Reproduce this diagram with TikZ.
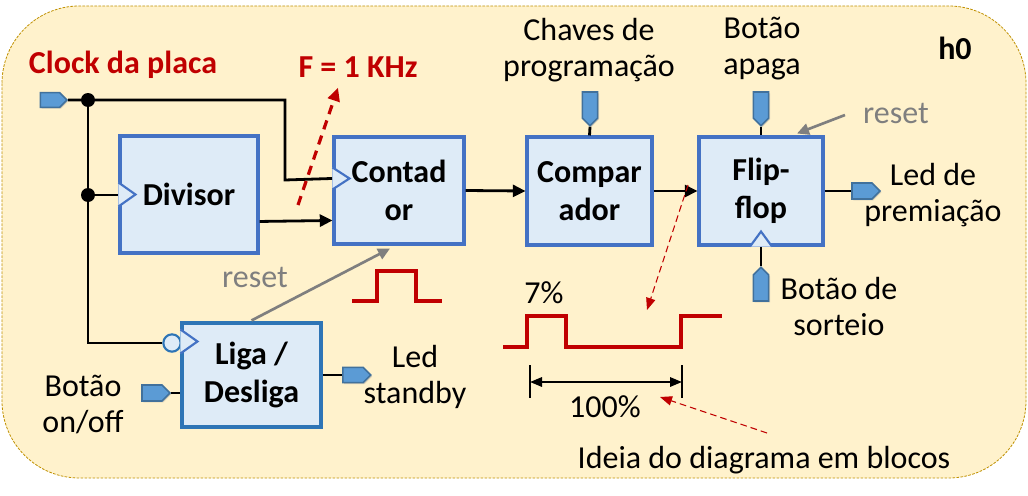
\documentclass[tikz,border=0pt]{standalone}
\usepackage{fontspec}
\setmainfont{Carlito}
\usetikzlibrary{arrows.meta,calc,shapes.symbols,shadows}
\definecolor{bgfill}{HTML}{FFF2CC}
\definecolor{bgline}{HTML}{BF9000}
\definecolor{blkfill}{HTML}{DEEBF7}
\definecolor{blkline}{HTML}{4472C4}
\definecolor{ligaline}{HTML}{2E75B6}
\definecolor{portfill}{HTML}{5B9BD5}
\definecolor{portline}{HTML}{41719C}
\definecolor{dred}{HTML}{C00000}
\definecolor{rgray}{HTML}{7F7F7F}
\begin{document}
\begin{tikzpicture}[x=0.75pt,y=-0.75pt,
  txt/.style={font=\fontsize{24}{27}\selectfont, align=center, inner sep=0pt},
  btxt/.style={font=\fontsize{24}{27}\selectfont\bfseries, align=center, inner sep=0pt},
  block/.style={draw=blkline, fill=blkfill, line width=2.3pt, inner sep=0pt,
     font=\fontsize{24}{28.5}\selectfont\bfseries, align=center,
     drop shadow={opacity=0.35, shadow xshift=1.5pt, shadow yshift=-1.5pt}},
  port/.style={shape=signal, draw=portline, fill=portfill, line width=1.2pt, inner sep=0pt,
     drop shadow={opacity=0.3, shadow xshift=1pt, shadow yshift=-1pt}},
  wire/.style={line width=2.1pt, black},
  arr/.style={wire, -{Triangle[length=9.5pt,width=9pt]}},
  clktri/.style={draw=blkline, line width=1.6pt, fill=blkfill},
  garr/.style={line width=2pt, rgray, -{Triangle[length=9pt,width=8.5pt]}},
  dot/.style={circle, fill=black, inner sep=0pt, minimum size=10.5pt},
  pulse/.style={line width=3pt, dred, line join=miter},
  rdash/.style={dred, line width=0.8pt, dash pattern=on 5pt off 3pt, -{Triangle[length=9pt,width=7pt]}}
]
\useasboundingbox (0,0) rectangle (1028,496);
% background
\draw[bgline, fill=bgfill, line width=0.6pt, dash pattern=on 2pt off 1pt, rounded corners=58pt] (2,6) rectangle (1026,478);

% blocks
\node[block, minimum width=103.5pt, minimum height=87.75pt] (div) at (189,194.5) {Divisor};
\node[block, minimum width=97.5pt, minimum height=80.25pt] (cont) at (399,190.5) {Contad\\or};
\node[block, minimum width=93.75pt, minimum height=81pt] (comp) at (589.5,191) {Compar\\ador};
\node[block, minimum width=93pt, minimum height=81pt] (ff) at (761,191) {Flip-\\flop};
\node[block, draw=ligaline, minimum width=104.25pt, minimum height=78pt] (liga) at (251.5,375) {Liga /\\Desliga};

% ports
\node[port, signal to=east, minimum width=20pt, minimum height=11pt] (clk) at (50,100) {};
\node[port, signal to=south, minimum width=11.5pt, minimum height=19.5pt] (chv) at (590,105) {};
\node[port, signal to=south, minimum width=11.5pt, minimum height=19.5pt] (apg) at (761,105) {};
\node[port, signal to=east, minimum width=21pt, minimum height=12pt] (led) at (862,191) {};
\node[port, signal to=north, minimum width=11.5pt, minimum height=19.5pt] (sort) at (761,288) {};
\node[port, signal to=east, minimum width=21pt, minimum height=11.5pt] (stb) at (353,375) {};
\node[port, signal to=east, minimum width=21pt, minimum height=12pt] (onoff) at (152,393) {};

% clock distribution
\node[dot] (j1) at (88,100) {};
\node[dot] (j2) at (88,195) {};
\coordinate (cck) at ($(cont.north west)+(0,43)$);
\coordinate (bend1) at (285,100);
\coordinate (bend2) at (285,180);
\coordinate (lbend) at (88,343);
\node[circle, draw=ligaline, fill=blkfill, line width=1.6pt, minimum size=13pt, inner sep=0pt] (bub) at (172,343) {};
\draw[wire] (clk.east) -- (j1.center) -- (bend1) -- (bend2) -- (cck);
\draw[wire] (j1.center) -- (lbend) -- (bub.west);
\draw[wire] (j2.center) -- (div.west |- j2);

% clock triangles
\draw[clktri] ($(cont.north west)+(0,32)$) -- ($(cont.north west)+(17,43)$) -- ($(cont.north west)+(0,54)$);
\draw[clktri] ($(div.west)+(0,-12)$) -- ($(div.west)+(17,0)$) -- ($(div.west)+(0,12)$);
\draw[clktri] ($(liga.north west)+(0,8)$) -- ($(liga.north west)+(17,20)$) -- ($(liga.north west)+(0,32)$);
\draw[clktri] ($(ff.south)+(-11,0)$) -- ($(ff.south)+(0,-15)$) -- ($(ff.south)+(11,0)$);

% data path
\draw[arr] ($(div.north east)+(0,87)$) -- ($(cont.north west)+(0,85)$);
\draw[arr] (cont.east) -- (comp.west);
\draw[arr] (comp.east) -- (ff.west);
\draw[wire] (chv.south) -- (comp.north);
\draw[wire] (apg.south) -- (ff.north);
\draw[wire] (ff.east) -- (led.west);
\draw[wire] (sort.north) -- (ff.south);
\draw[wire] (liga.east) -- (stb.west);
\draw[wire] (onoff.east) -- (liga.west |- onoff);

% reset arrows
\coordinate (rs1) at (845,115);
\draw[garr] (rs1) -- ($(ff.north)+(36,-2)$);
\draw[garr] ($(liga.north)+(0,-1)$) -- ($(cont.south)+(-9,3)$);

% labels
\node[btxt, text=dred] (lclk) at (123,65) {Clock da placa};
\node[btxt, text=dred] (lf) at (358,67) {F = 1 KHz};
\node[btxt] (lh0) at (955,48) {h0};
\node[txt] (lchv) at (589,50) {Chaves de\\programação};
\node[txt] (lapg) at (762,49) {Botão\\apaga};
\node[txt, text=rgray] (lrs1) at (896,113) {reset};
\node[txt] (lled) at (933,195) {Led de\\premiação};
\node[txt] (lsort) at (839,307) {Botão de\\sorteio};
\node[txt, text=rgray] (lrs2) at (255,277) {reset};
\node[txt] (lstb) at (415,377) {Led\\standby};
\node[txt] (lonoff) at (83,404) {Botão\\on/off};
\node[txt] (l7) at (544,293) {7\%};
\node[txt] (l100) at (605,407) {100\%};
\node[txt] (lidea) at (764,460) {Ideia do diagrama em blocos};

% red dashed arrow F = 1 KHz
\coordinate (fa) at (298,205);
\draw[dred, line width=2.4pt, dash pattern=on 7pt off 5pt, -{Triangle[length=10pt,width=9pt]}] (fa) -- ($(lf.south)+(-20,10)$);

% small pulse
\draw[pulse] (352,301) -- (377,301) -- (377,271) -- (416,271) -- (416,301) -- (442,301);
% big pulse
\draw[pulse] (503,347) -- (527,347) -- (527,316) -- (566,316) -- (566,347) -- (681,347) -- (681,316) -- (722,316);

% dimension
\coordinate (d1) at (530,382);
\coordinate (d2) at (682,382);
\draw[wire] (530,365) -- (530,398);
\draw[wire] (682,365) -- (682,398);
\draw[line width=1.6pt, {Triangle[length=9pt,width=7pt]}-{Triangle[length=9pt,width=7pt]}] (d1) -- (d2);

% thin red dashed pointers
\coordinate (p1) at (688,185);
\coordinate (p2) at (647,310);
\draw[rdash] (p1) -- (p2);
\coordinate (p3) at (767,433);
\coordinate (p4) at (660,397);
\draw[rdash] (p3) -- (p4);
\end{tikzpicture}
\end{document}
